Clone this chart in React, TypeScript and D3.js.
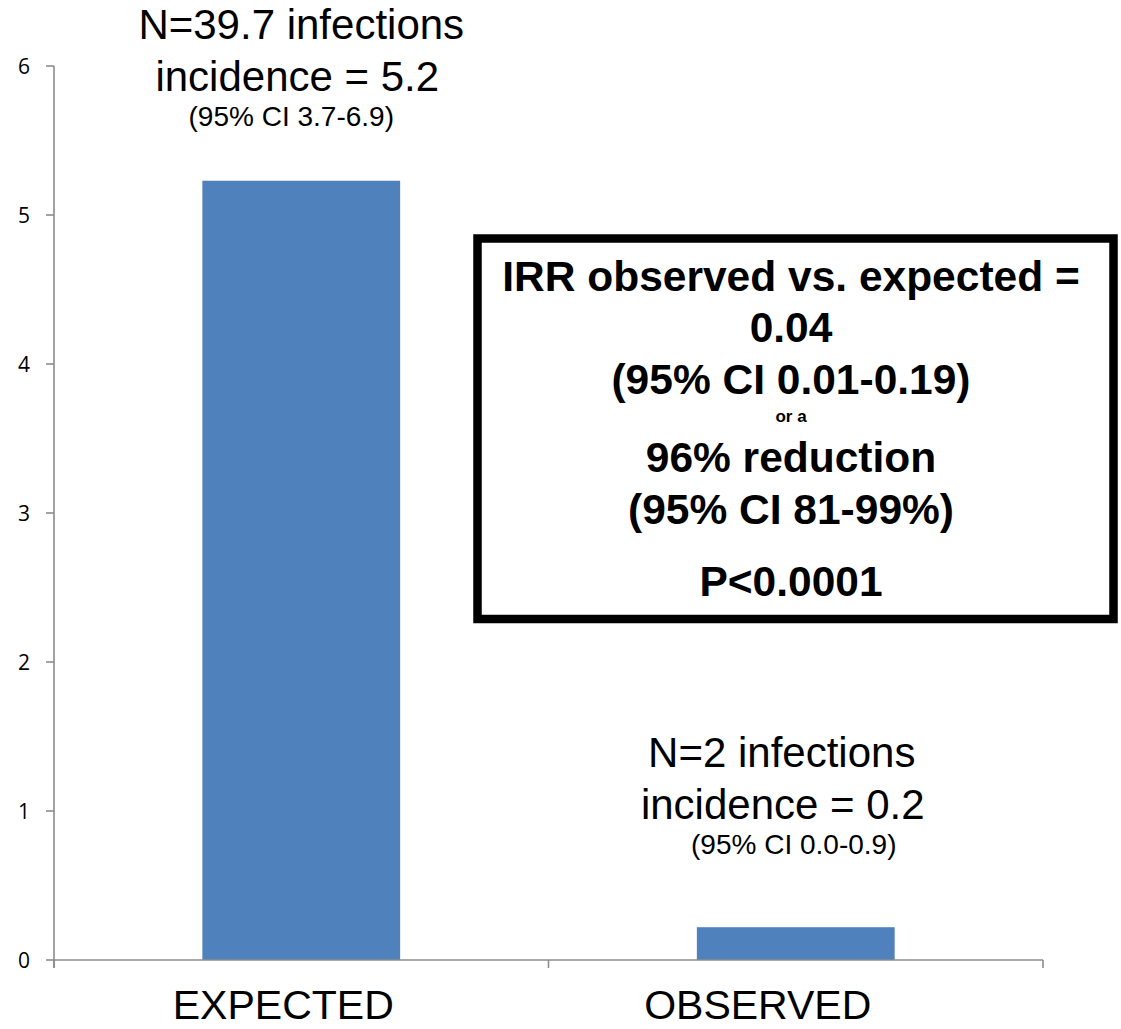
import * as d3 from "d3";

const categories = ["EXPECTED", "OBSERVED"];
const incidence = [5.23, 0.22];
const yTicks = [0, 1, 2, 3, 4, 5, 6];

// annotation lines above each bar
const expectedNotes = ["N=39.7 infections", "incidence = 5.2", "(95% CI 3.7-6.9)"];
const observedNotes = ["N=2 infections", "incidence = 0.2", "(95% CI 0.0-0.9)"];

const boxLines = [
  "IRR observed vs. expected =",
  "0.04",
  "(95% CI 0.01-0.19)",
  "or a",
  "96% reduction",
  "(95% CI 81-99%)",
  "P<0.0001",
];

const W = 1121;
const H = 1029;
const AXIS = "#8c8c8c";
const BAR = "#4f81bd";
const SANS = "'Liberation Sans', Arial, sans-serif";

export default function App() {
  const x = d3.scaleBand<string>().domain(categories).range([54, 1043]).padding(0);
  const y = d3.scaleLinear().domain([0, 6]).range([960, 66]);
  const barW = x.bandwidth() * 0.4;
  const cx = (c: string) => (x(c) ?? 0) + x.bandwidth() / 2;

  const noteSets = [
    { lines: expectedNotes, cat: categories[0], dx: [0, -4, -10], base: 39 },
    { lines: observedNotes, cat: categories[1], dx: [-14, -13, -2], base: 767 },
  ];
  const noteDy = [0, 52, 87];
  const noteSize = [42, 42, 28];

  const boxY = [291, 342, 394, 422, 472, 524, 596];
  const boxSize = [42.5, 42.5, 42.5, 17, 42.5, 42.5, 42.5];
  const boxCx = 791;

  return (
    <svg
      width={W}
      height={H}
      viewBox={`0 0 ${W} ${H}`}
      style={{ position: "absolute", left: 0, top: 0, background: "#fff" }}
    >
      {/* y axis */}
      <line x1={54} x2={54} y1={y(6)} y2={968} stroke={AXIS} strokeWidth={1.6} />
      {yTicks.map((t) => (
        <g key={t}>
          <line x1={46} x2={54} y1={y(t)} y2={y(t)} stroke={AXIS} strokeWidth={1.6} />
          <text
            x={30}
            y={y(t)}
            dy="0.36em"
            textAnchor="end"
            fontFamily="'Open Sans', sans-serif"
            fontSize={21}
            fill="#000"
          >
            {t}
          </text>
        </g>
      ))}

      {/* bars */}
      {categories.map((c, i) => (
        <rect
          key={c}
          x={cx(c) - barW / 2}
          y={y(incidence[i])}
          width={barW}
          height={y(0) - y(incidence[i])}
          fill={BAR}
        />
      ))}

      {/* x axis */}
      <line x1={54} x2={1043} y1={y(0)} y2={y(0)} stroke={AXIS} strokeWidth={1.6} />
      {[54, (x(categories[1]) ?? 0), 1043].map((v, i) => (
        <line key={i} x1={v} x2={v} y1={y(0)} y2={968} stroke={AXIS} strokeWidth={1.6} />
      ))}
      {categories.map((c, i) => (
        <text
          key={c}
          x={cx(c) + (i === 0 ? -18 : -38)}
          y={1019}
          textAnchor="middle"
          fontFamily={SANS}
          fontSize={41}
          fill="#000"
        >
          {c}
        </text>
      ))}

      {/* notes */}
      {noteSets.map((s) =>
        s.lines.map((l, j) => (
          <text
            key={s.cat + j}
            x={cx(s.cat) + s.dx[j]}
            y={s.base + noteDy[j]}
            textAnchor="middle"
            fontFamily={SANS}
            fontSize={noteSize[j]}
            fill="#000"
          >
            {l}
          </text>
        ))
      )}

      {/* IRR box */}
      <rect x={477.5} y={238.5} width={636} height={380.5} fill="#fff" stroke="#000" strokeWidth={8.5} />
      {boxLines.map((l, i) => (
        <text
          key={i}
          x={boxCx}
          y={boxY[i]}
          textAnchor="middle"
          fontFamily={SANS}
          fontWeight="bold"
          fontSize={boxSize[i]}
          fill="#000"
        >
          {l}
        </text>
      ))}
    </svg>
  );
}
